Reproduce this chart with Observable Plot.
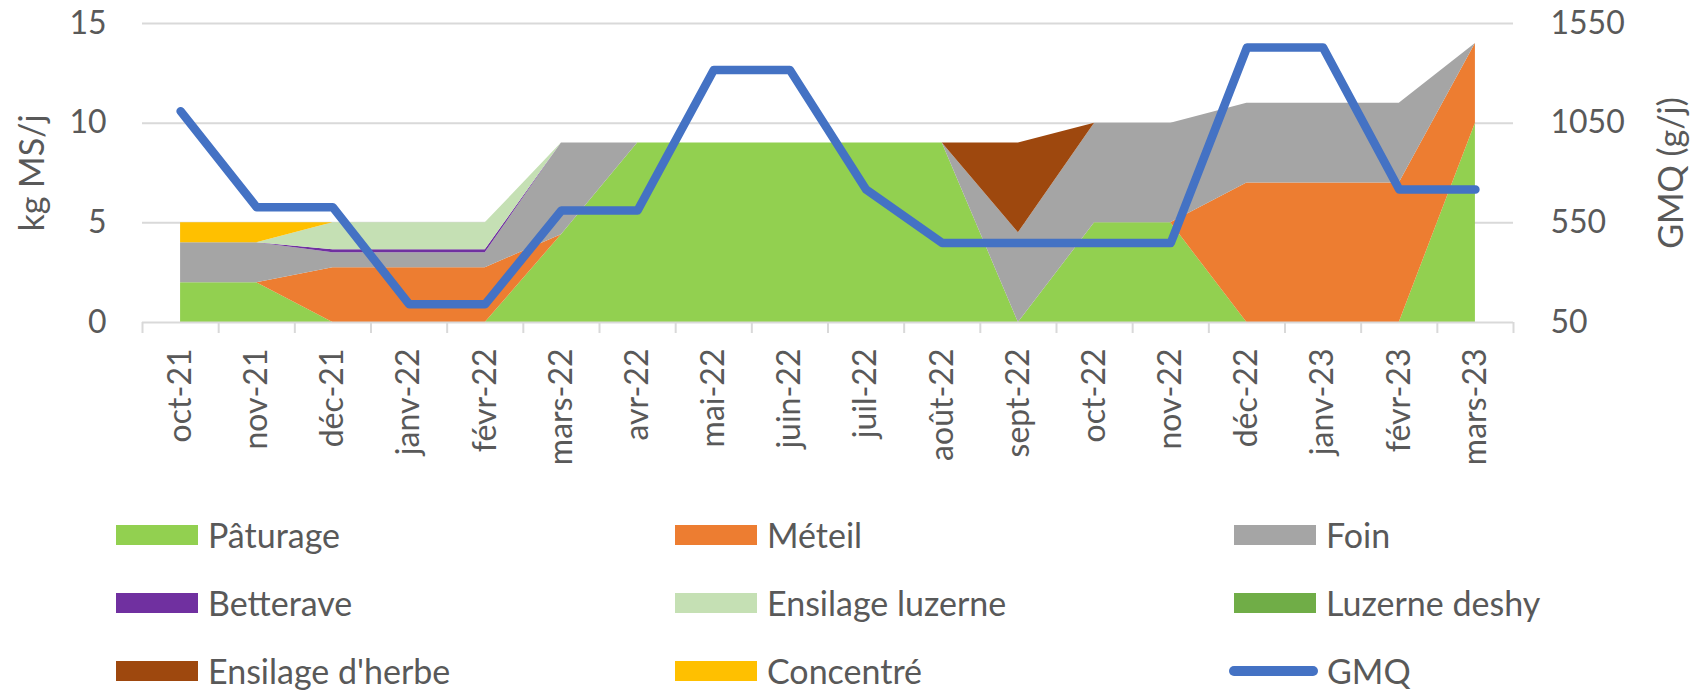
<!DOCTYPE html>
<html>
<head>
<meta charset="utf-8">
<script src="https://cdn.jsdelivr.net/npm/d3@7"></script>
<script src="https://cdn.jsdelivr.net/npm/@observablehq/plot@0.6"></script>
<style>
  html, body { margin: 0; padding: 0; background: #fff; overflow: hidden; }
  #chart svg { display: block; }
  #legend {
    display: grid;
    grid-template-columns: repeat(3, 559px);
    grid-auto-rows: 68px;
    padding-left: 116px;
    font-family: Lato, "Open Sans", sans-serif;
    font-size: 34px;
    line-height: 40px;
    color: #595959;
  }
  .item { display: flex; align-items: center; white-space: nowrap; }
  .sw { width: 82px; height: 20px; margin-right: 10px; flex: none; }
  .ln { width: 89px; height: 10px; border-radius: 5px; margin-right: 9px; margin-left: -5px; flex: none; }
</style>
</head>
<body>
<div id="chart"></div>
<div id="legend"></div>
<script>
const months = ["oct-21","nov-21","déc-21","janv-22","févr-22","mars-22","avr-22","mai-22","juin-22","juil-22","août-22","sept-22","oct-22","nov-22","déc-22","janv-23","févr-23","mars-23"];

const seriesNames = ["Pâturage","Méteil","Foin","Betterave","Ensilage luzerne","Luzerne deshy","Ensilage d'herbe","Concentré"];
const seriesColors = ["#92D050","#ED7D31","#A5A5A5","#7030A0","#C5E0B4","#70AD47","#9E480E","#FFC000"];

const paturage        = [2, 2, 0,    0,    0,    4.4, 9, 9, 9, 9, 9, 0,   5, 5, 0, 0, 0, 10];
const meteil          = [0, 0, 2.75, 2.75, 2.75, 0,   0, 0, 0, 0, 0, 0,   0, 0, 7, 7, 7, 4];
const foin            = [2, 2, 0.75, 0.75, 0.75, 4.6, 0, 0, 0, 0, 0, 4.5, 5, 5, 4, 4, 4, 0];
const betterave       = [0, 0, 0.15, 0.15, 0.15, 0,   0, 0, 0, 0, 0, 0,   0, 0, 0, 0, 0, 0];
const ensilageLuzerne = [0, 0, 1.35, 1.35, 1.35, 0,   0, 0, 0, 0, 0, 0,   0, 0, 0, 0, 0, 0];
const luzerneDeshy    = [0, 0, 0,    0,    0,    0,   0, 0, 0, 0, 0, 0,   0, 0, 0, 0, 0, 0];
const ensilageHerbe   = [0, 0, 0,    0,    0,    0,   0, 0, 0, 0, 0, 4.5, 0, 0, 0, 0, 0, 0];
const concentre       = [1, 1, 0,    0,    0,    0,   0, 0, 0, 0, 0, 0,   0, 0, 0, 0, 0, 0];

const gmq = [1110, 628, 628, 142, 142, 612, 612, 1317, 1317, 717, 449, 449, 449, 449, 1429, 1429, 717, 717];

const leftTicks = [0, 5, 10, 15];
const rightTicks = [50, 550, 1050, 1550];
const leftTitle = "kg MS/j";
const rightTitle = "GMQ (g/j)";
const lineName = "GMQ";
const lineColor = "#4472C4";

const seriesValues = [paturage, meteil, foin, betterave, ensilageLuzerne, luzerneDeshy, ensilageHerbe, concentre];

// long-format table for the stacked areas
const areaData = [];
seriesNames.forEach((s, k) => {
  seriesValues[k].forEach((v, i) => areaData.push({i, s, v}));
});
const lineData = gmq.map((g, i) => ({i, g}));

// right (secondary) axis aligned onto the left axis range
const g2y = d3.scaleLinear([rightTicks[0], rightTicks[rightTicks.length - 1]], [leftTicks[0], leftTicks[leftTicks.length - 1]]);

const grey = "#d9d9d9";
const txt = "#595959";

const plot = Plot.plot({
  width: 1700,
  height: 501,
  marginLeft: 142,
  marginRight: 187,
  marginTop: 23,
  marginBottom: 179,
  x: {type: "linear", domain: [-0.5, months.length - 0.5]},
  y: {domain: [leftTicks[0], leftTicks[leftTicks.length - 1]]},
  color: {domain: seriesNames, range: seriesColors},
  style: {fontFamily: "Lato, 'Open Sans', sans-serif", fontSize: "32px", color: txt, background: "#fff"},
  marks: [
    Plot.gridY(leftTicks.filter(d => d > 0), {stroke: grey, strokeOpacity: 1, strokeWidth: 2}),
    Plot.areaY(areaData, {x: "i", y: "v", z: "s", fill: "s", order: null}),
    Plot.ruleY([0], {stroke: grey, strokeWidth: 2}),
    Plot.axisX(d3.range(-0.5, months.length, 1), {tickSize: 11, tickFormat: () => "", stroke: grey, strokeWidth: 2, label: null}),
    Plot.axisX(d3.range(months.length), {tickSize: 0, tickPadding: 26, tickRotate: -90, tickFormat: i => months[i], fill: txt, label: null}),
    Plot.axisY(leftTicks, {anchor: "left", tickSize: 0, tickPadding: 36, fill: txt, label: null}),
    Plot.axisY(rightTicks.map(g => g2y(g)), {anchor: "right", tickSize: 0, tickPadding: 37, fill: txt, label: null, tickFormat: d => String(Math.round(g2y.invert(d)))}),
    Plot.text([leftTitle], {frameAnchor: "left", textAnchor: "middle", rotate: -90, dx: -109, fill: txt, fontSize: 34}),
    Plot.text([rightTitle], {frameAnchor: "right", textAnchor: "middle", rotate: -90, dx: 159, fill: txt, fontSize: 34}),
    Plot.line(lineData, {x: "i", y: d => g2y(d.g), stroke: lineColor, strokeWidth: 8.5, strokeLinecap: "round", strokeLinejoin: "round"})
  ]
});
document.getElementById("chart").appendChild(plot);

// legend (Excel order: row by row)
const legend = document.getElementById("legend");
const legendItems = seriesNames.map((n, k) => ({name: n, color: seriesColors[k], type: "area"}));
legendItems.push({name: lineName, color: lineColor, type: "line"});
legendItems.forEach(it => {
  const d = document.createElement("div");
  d.className = "item";
  const s = document.createElement("span");
  s.className = it.type === "line" ? "ln" : "sw";
  s.style.background = it.color;
  const t = document.createElement("span");
  t.textContent = it.name;
  d.appendChild(s);
  d.appendChild(t);
  legend.appendChild(d);
});
</script>
</body>
</html>
